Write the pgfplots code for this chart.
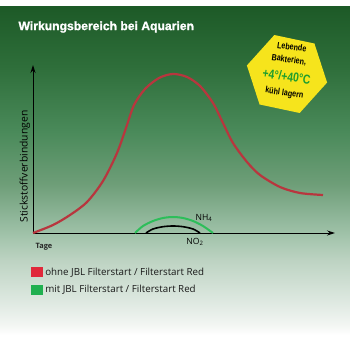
\documentclass[border=0pt]{standalone}
\usepackage{fontspec}
\setmainfont{Open Sans}
\newfontfamily\titlefont[FakeBold=1.2]{Liberation Sans}
\newfontfamily\narrowfont[FakeStretch=0.8]{Liberation Sans}
\usepackage{pgfplots}
\pgfplotsset{compat=1.18}
\usetikzlibrary{shapes.geometric,arrows.meta}
\definecolor{bgA}{HTML}{F3F6F3}
\definecolor{bgB}{HTML}{DDE8E0}
\definecolor{bgC}{HTML}{BDD3C2}
\definecolor{bgD}{HTML}{A3C4AC}
\definecolor{bgE}{HTML}{6E9E78}
\definecolor{bgF}{HTML}{4A8A5A}
\definecolor{bgG}{HTML}{2E6E3A}
\definecolor{bgH}{HTML}{1D5A27}
\definecolor{redc}{HTML}{B8363E}
\definecolor{redl}{HTML}{E0283A}
\definecolor{greenc}{HTML}{2DBE5A}
\definecolor{greenl}{HTML}{20B050}
\definecolor{badge}{HTML}{F6E41C}
\definecolor{badgegreen}{HTML}{1E9E2E}
\pgfdeclareverticalshading{bg}{100bp}{color(0bp)=(white); color(25bp)=(white); color(26.5bp)=(bgA); color(30.3bp)=(bgB); color(36.4bp)=(bgC); color(40bp)=(bgD); color(48bp)=(bgE); color(56bp)=(bgF); color(66bp)=(bgG); color(75bp)=(bgH); color(100bp)=(bgH)}
\begin{document}
\begin{tikzpicture}[x=1bp,y=1bp]
\fill[white] (0,0) rectangle (350,350);
\shade[shading=bg] (0,15) rectangle (350,343);
\begin{axis}[
  at={(33,117)}, anchor=south west,
  scale only axis, width=302bp, height=168bp,
  xmin=0, xmax=302, ymin=0, ymax=168,
  enlargelimits=false,
  axis lines=left,
  axis line style={line width=0.9bp, black, -{Stealth[length=8bp,width=5bp]}},
  xtick=\empty, ytick=\empty,
  clip=false,
]
\addplot[redc, line width=2.2bp, smooth] coordinates {
(0,0) (20,8) (37,18) (54,31) (70,52) (84,80) (94,108) (101,128) (112,144) (126,155) (140,159) (154,156) (167,147) (180,130) (190,110) (200,90) (214,71) (227,58) (247,46) (267,40) (290,38)};
\addplot[greenc, line width=2bp, smooth] coordinates {
(102,0) (110,7) (120,12) (130,15) (140,16) (150,15) (160,12) (170,7) (180,0)};
\addplot[black, line width=1.6bp, smooth] coordinates {
(113,0) (120,4) (130,6.3) (140,7) (150,6.3) (160,4) (167,0)};
\end{axis}
\begin{axis}[
  at={(33,117)}, anchor=south west,
  scale only axis, width=302bp, height=168bp,
  xmin=0, xmax=302, ymin=0, ymax=168,
  hide axis,
  legend style={at={(axis description cs:-0.006,-0.19)}, anchor=north west,
    draw=none, fill=none, inner sep=0pt,
    font=\fontsize{9.8}{11}\selectfont\color{black!90},
    row sep=3.5bp,
    nodes={inner sep=2.5bp}},
  legend cell align=left,
  legend image code/.code={\fill[#1] (0bp,-4.5bp) rectangle (11bp,4.5bp);},
  every even column/.append style={column sep=2bp},
]
\addlegendimage{redl}
\addlegendentry{ohne JBL Filterstart / Filterstart Red}
\addlegendimage{greenl}
\addlegendentry{mit JBL Filterstart / Filterstart Red}
\end{axis}
% texts
\node[anchor=west, text=white, font=\titlefont\bfseries\fontsize{12.2}{14}\selectfont] at (15,323) {Wirkungsbereich bei Aquarien};
\node[rotate=90, font=\fontsize{10.4}{12}\selectfont] at (25,183.5) {Stickstoffverbindungen};
\node[font=\fontsize{7.4}{8}\selectfont\bfseries, text=black!85] at (44,103) {Tage};
\node[font=\fontsize{8.6}{10}\selectfont] at (204,132) {NH\textsubscript{4}};
\node[font=\fontsize{8.6}{10}\selectfont] at (195,108) {NO\textsubscript{2}};
% badge
\node[regular polygon, regular polygon sides=6, minimum size=82bp, fill=badge, draw=none, rotate=-12, inner sep=0pt] at (287,276) {};
\begin{scope}[shift={(287,276)}, rotate=-8, transform shape]
\node[font=\narrowfont\bfseries\fontsize{9}{9}\selectfont, inner sep=0pt] at (1,27.5) {Lebende};
\node[font=\narrowfont\bfseries\fontsize{9}{9}\selectfont, inner sep=0pt] at (0,14) {Bakterien,};
\node[font=\narrowfont\bfseries\fontsize{13}{13}\selectfont, text=badgegreen, inner sep=0pt] at (0,-2.5) {+4°/+40°C};
\node[font=\narrowfont\bfseries\fontsize{9}{9}\selectfont, inner sep=0pt] at (0,-19.5) {kühl lagern};
\end{scope}
\end{tikzpicture}
\end{document}
